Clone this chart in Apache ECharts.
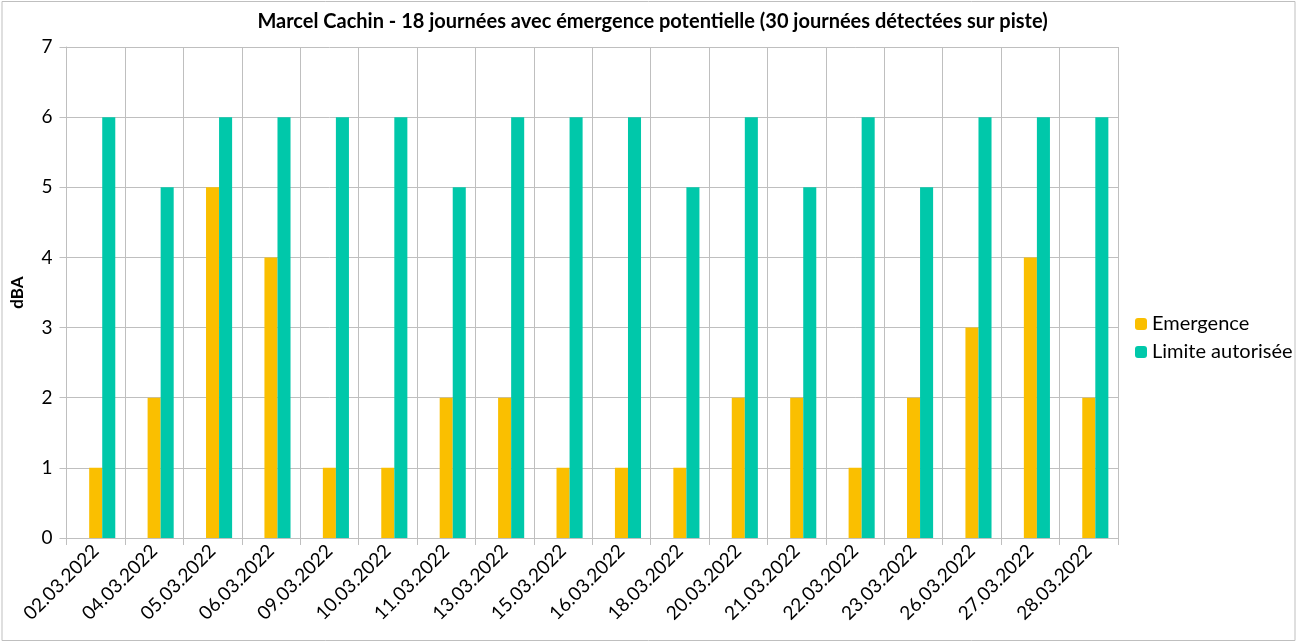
<!DOCTYPE html>
<html><head><meta charset="utf-8">
<script src="https://cdn.jsdelivr.net/npm/echarts@6/dist/echarts.min.js"></script>
<style>html,body{margin:0;padding:0;background:#fff}#c{width:1305px;height:643px}</style>
</head><body><div id="c"></div>
<script>
const categories = ['02.03.2022','04.03.2022','05.03.2022','06.03.2022','09.03.2022','10.03.2022','11.03.2022','13.03.2022','15.03.2022','16.03.2022','18.03.2022','20.03.2022','21.03.2022','22.03.2022','23.03.2022','26.03.2022','27.03.2022','28.03.2022'];
const emergence = [1,2,5,4,1,1,2,2,1,1,1,2,2,1,2,3,4,2];
const limite = [6,5,6,6,6,6,5,6,6,6,5,6,5,6,5,6,6,6];
const placeholder = categories.map(() => null);
const titleText = 'Marcel Cachin - 18 journées avec émergence potentielle (30 journées détectées sur piste)';
const FONT = 'Lato';
const chart = echarts.init(document.getElementById('c'), null, {renderer:'canvas'});
chart.setOption({
  animation:false,
  backgroundColor:'#fff',
  title:{text:titleText,left:'center',top:7,textStyle:{fontFamily:FONT,fontWeight:'bold',fontSize:20,color:'#000'}},
  legend:{orient:'vertical',left:1130,top:309,itemWidth:12,itemHeight:12,itemGap:8,
    data:['Emergence','Limite autorisée'],
    textStyle:{fontFamily:FONT,fontSize:20,color:'#000'}},
  graphic:[{type:'rect',shape:{x:2,y:1.5,width:1293,height:639},style:{fill:null,stroke:'#BFBFBF',lineWidth:1}}],
  grid:{left:66.5,right:187,top:47,bottom:105},
  xAxis:{type:'category',data:categories,boundaryGap:true,
    axisLine:{lineStyle:{color:'#BFBFBF'}},
    axisTick:{show:true,length:7,lineStyle:{color:'#BFBFBF'}},
    splitLine:{show:true,lineStyle:{color:'#BFBFBF'}},
    axisLabel:{rotate:45,fontFamily:FONT,fontSize:19,color:'#000',margin:10,interval:0}},
  yAxis:{type:'value',min:0,max:7,interval:1,name:'dBA',nameLocation:'middle',nameGap:40,
    nameTextStyle:{fontFamily:FONT,fontWeight:'bold',fontSize:17,color:'#000'},
    axisLine:{show:true,lineStyle:{color:'#BFBFBF'}},
    axisTick:{show:true,length:7,lineStyle:{color:'#BFBFBF'}},
    splitLine:{show:true,lineStyle:{color:'#BFBFBF'}},
    axisLabel:{fontFamily:FONT,fontSize:19,color:'#000',margin:14}},
  series:[
    {name:'',type:'bar',data:placeholder,barGap:'0%',barCategoryGap:'33%',silent:true},
    {name:'Emergence',type:'bar',data:emergence,itemStyle:{color:'#FABF00'},barGap:'0%',barCategoryGap:'33%'},
    {name:'Limite autorisée',type:'bar',data:limite,itemStyle:{color:'#00C8AA'},barGap:'0%',barCategoryGap:'33%'}
  ]
});
</script></body></html>
